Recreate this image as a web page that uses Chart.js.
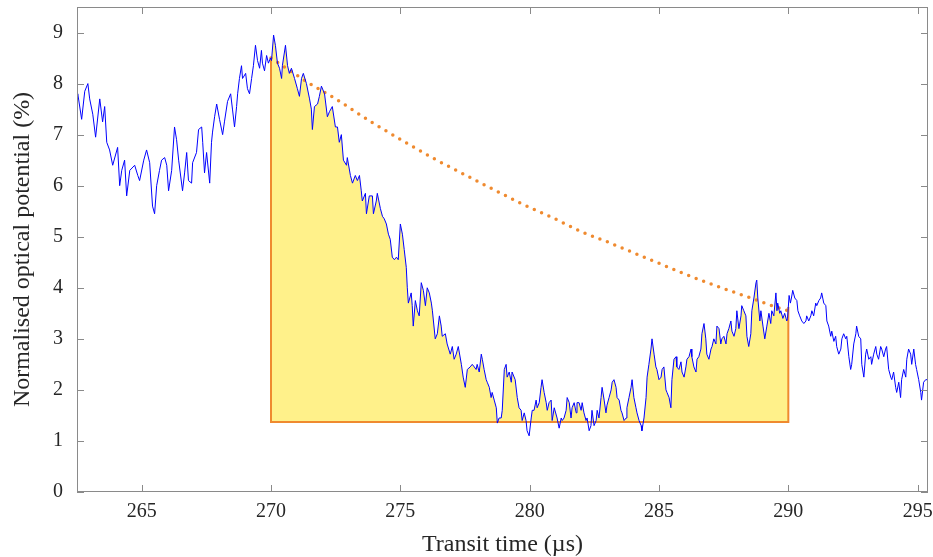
<!DOCTYPE html>
<html>
<head>
<meta charset="utf-8">
<script src="https://cdn.jsdelivr.net/npm/chart.js"></script>
<style>
  html, body { margin: 0; padding: 0; background: #fff; }
  canvas { display: block; }
</style>
</head>
<body>
<canvas id="chart" width="933" height="557"></canvas>
<script>
// Transit time (µs) and normalised optical potential (%)
const time = [
  262.49,262.53,262.68,262.80,262.92,262.99,263.11,263.22,263.38,263.49,263.57,263.65,263.76,263.88,264.07,264.15,264.23,264.34,264.42,264.54,264.73,264.85,264.92,265.08,265.19,265.31,265.42,265.50,265.58,265.69,265.77,265.89,265.97,266.04,266.16,266.27,266.35,266.43,
  266.58,266.66,266.74,266.81,266.93,266.97,267.12,267.20,267.32,267.36,267.43,267.51,267.63,267.70,267.74,267.82,267.90,268.01,268.13,268.20,268.32,268.44,268.51,268.59,268.67,268.71,268.78,268.86,268.90,269.02,269.09,269.17,269.25,269.32,269.40,269.48,269.56,269.63,269.67,269.75,269.83,269.90,269.98,
  270.02,270.10,270.17,270.25,270.33,270.41,270.44,270.56,270.64,270.71,270.79,270.91,271.02,271.10,271.18,271.25,271.37,271.49,271.56,271.60,271.68,271.80,271.87,271.95,272.07,272.18,272.26,272.37,272.49,272.57,272.64,272.72,272.80,272.92,272.95,273.07,273.15,273.26,273.34,
  273.42,273.49,273.53,273.65,273.69,273.80,273.92,273.96,274.07,274.11,274.23,274.31,274.38,274.46,274.54,274.61,274.69,274.77,274.85,274.92,275.00,275.08,275.15,275.23,275.27,275.31,275.42,275.46,275.50,275.58,275.66,275.73,275.81,275.89,275.97,276.04,276.12,276.20,276.24,276.35,276.43,276.51,276.58,276.62,276.74,276.81,276.93,277.01,277.08,277.16,277.24,277.36,277.43,277.51,277.59,
  277.70,277.78,277.86,277.93,277.97,278.05,278.13,278.17,278.24,278.32,278.36,278.44,278.51,278.55,278.63,278.71,278.75,278.82,278.90,278.94,279.02,279.09,279.13,279.21,279.29,279.32,279.44,279.52,279.59,279.67,279.71,279.79,279.86,279.90,279.98,280.06,280.10,280.17,280.25,280.29,280.37,280.44,280.48,280.56,280.64,280.68,280.75,280.83,280.87,280.95,281.06,281.14,281.22,281.26,
  281.33,281.41,281.45,281.53,281.60,281.64,281.72,281.80,281.83,281.91,281.99,282.03,282.10,282.18,282.22,282.30,282.37,282.41,282.49,282.57,282.61,282.68,282.76,282.80,282.88,282.95,282.99,283.07,283.15,283.19,283.26,283.34,283.38,283.46,283.53,283.57,283.65,283.73,283.76,283.84,283.92,283.96,284.03,284.11,284.15,284.23,284.31,284.34,284.42,284.50,284.54,284.61,284.69,284.73,284.81,284.88,
  284.92,285.00,285.08,285.12,285.19,285.27,285.31,285.39,285.46,285.50,285.58,285.66,285.69,285.77,285.85,285.89,285.97,286.04,286.08,286.16,286.24,286.27,286.35,286.43,286.47,286.54,286.62,286.66,286.74,286.81,286.85,286.93,287.01,287.05,287.12,287.20,287.24,287.32,287.39,287.43,287.51,287.59,287.63,287.70,287.78,287.82,287.90,287.97,288.01,288.09,288.17,288.20,288.28,288.36,
  288.40,288.47,288.55,288.59,288.67,288.75,288.78,288.82,288.90,288.94,289.02,289.09,289.17,289.25,289.32,289.36,289.44,289.52,289.56,289.59,289.67,289.71,289.79,289.86,289.94,289.97,290.03,290.08,290.12,290.17,290.25,290.33,290.37,290.44,290.52,290.60,290.68,290.71,290.79,290.87,290.91,290.98,291.06,291.10,291.18,291.25,291.29,291.37,291.45,291.49,291.56,
  291.64,291.68,291.76,291.83,291.87,291.95,292.03,292.07,292.14,292.22,292.26,292.34,292.41,292.45,292.53,292.61,292.64,292.72,292.80,292.84,292.92,292.99,293.03,293.11,293.19,293.22,293.30,293.38,293.42,293.49,293.57,293.61,293.69,293.76,293.80,293.88,293.96,294.00,294.07,294.15,294.19,294.27,294.34,294.38,294.46,294.54,294.58,294.65,294.73,294.77,294.85,294.92,294.96,295.04,295.12,295.15,295.23,295.31,295.38
];
const potential = [
  7.6,7.8,7.3,7.85,8.0,7.7,7.4,6.95,7.7,7.25,7.55,6.85,6.7,6.4,6.75,6.0,6.3,6.5,5.8,6.3,6.4,6.2,6.1,6.5,6.7,6.45,5.6,5.45,6.0,6.3,6.5,6.55,6.4,5.9,6.3,7.15,6.9,6.5,
  5.9,6.25,6.65,6.1,6.05,6.45,6.65,7.1,7.15,6.85,6.25,6.65,6.05,6.85,7.05,7.35,7.6,7.3,7.0,7.25,7.65,7.8,7.5,7.15,7.55,7.8,8.1,8.35,8.1,8.2,7.9,7.8,8.1,8.35,8.75,8.45,8.3,8.65,8.4,8.25,8.55,8.4,8.5,
  8.45,8.95,8.75,8.4,8.3,8.1,8.35,8.75,8.35,8.2,8.3,8.1,7.9,7.75,8.1,8.2,8.0,7.7,7.5,7.1,7.55,7.6,7.75,7.95,7.8,7.35,7.45,7.55,7.15,7.15,6.85,7.0,6.5,6.4,6.55,6.2,6.05,6.2,6.1,
  6.2,5.9,5.7,5.85,5.45,5.8,5.8,5.45,5.7,5.85,5.55,5.4,5.35,5.25,5.05,4.95,4.6,4.55,4.6,4.55,5.25,5.05,4.75,4.4,4.0,3.7,3.9,3.65,3.25,3.75,3.55,3.45,4.1,3.95,3.65,4.0,3.9,3.7,3.55,3.0,3.1,3.45,3.25,3.05,3.1,2.9,2.7,2.85,2.6,2.7,2.85,2.5,2.25,2.05,2.4,
  2.45,2.5,2.45,2.4,2.5,2.35,2.7,2.6,2.4,2.2,2.15,2.05,1.85,1.95,1.8,1.65,1.35,1.45,1.45,1.6,2.4,2.5,2.25,2.35,2.15,2.35,2.2,1.85,1.65,1.6,1.4,1.55,1.4,1.2,1.1,1.45,1.6,1.6,1.8,1.65,1.75,2.05,2.2,1.95,1.75,1.6,1.75,1.8,1.4,1.65,1.45,1.25,1.45,1.4,
  1.45,1.6,1.85,1.75,1.45,1.65,1.75,1.55,1.75,1.75,1.6,1.75,1.55,1.4,1.45,1.2,1.3,1.6,1.3,1.4,1.6,1.45,1.85,2.05,1.8,1.55,1.7,1.85,2.0,2.15,2.2,2.05,1.85,1.8,1.6,1.55,1.4,1.45,1.65,1.85,2.05,2.2,1.85,1.65,1.55,1.4,1.3,1.2,1.45,1.85,2.25,2.5,2.8,3.0,2.7,2.45,
  2.4,2.2,2.25,2.4,2.45,2.0,1.95,1.85,1.65,2.2,2.6,2.65,2.45,2.4,2.55,2.35,2.25,2.45,2.6,2.65,2.8,2.65,2.45,2.35,2.6,2.65,2.8,3.1,3.3,3.0,2.7,2.6,2.8,2.85,3.0,2.9,3.25,3.2,2.9,3.0,3.05,2.9,3.1,3.2,3.35,3.15,3.05,3.2,3.55,3.2,3.45,3.65,3.55,3.45,
  3.05,2.85,3.1,3.55,3.8,4.1,4.15,3.8,3.35,3.55,3.25,3.0,3.25,3.5,3.3,3.55,3.45,3.9,3.55,3.7,3.5,3.55,3.4,3.5,3.35,3.4,3.85,3.7,3.8,3.95,3.8,3.75,3.55,3.45,3.35,3.3,3.35,3.45,3.35,3.45,3.55,3.45,3.7,3.65,3.75,3.8,3.9,3.7,3.65,3.35,3.25,
  3.05,3.15,2.95,3.05,2.85,2.7,2.8,3.0,3.1,3.0,3.05,2.65,2.4,2.5,2.9,3.1,3.25,3.05,3.0,2.5,2.25,2.7,2.8,2.6,2.65,2.5,2.7,2.85,2.7,2.6,2.85,2.8,2.65,2.8,2.85,2.4,2.25,2.2,2.35,2.05,1.95,2.15,1.85,2.2,2.4,2.25,2.6,2.8,2.7,2.5,2.8,2.5,2.4,2.2,1.95,1.8,2.15,2.2,2.2
];

// Dotted decay curve
const fitTime  = [270, 271.5, 272.5, 273.9, 275.1, 276.3, 277.55, 278.7, 279.6, 280.9, 282.0, 283.0, 284.0, 284.9, 286.0, 287.3, 288.6, 289.3, 290.0];
const fitValue = [8.5, 8.0, 7.7, 7.24, 6.88, 6.53, 6.2, 5.9, 5.67, 5.37, 5.1, 4.9, 4.69, 4.5, 4.27, 4.02, 3.79, 3.66, 3.55];

// Integration window and baseline of the shaded area
const areaStart = 270;
const areaEnd = 290;
const baseline = 1.37;

const xTicks = [265, 270, 275, 280, 285, 290, 295];
const yTicks = [0, 1, 2, 3, 4, 5, 6, 7, 8, 9];

const BLUE = '#0000ff';
const ORANGE = '#ef8a2f';
const YELLOW = '#fff18a';
const FRAME = '#8a8a8a';
const TEXT = '#262626';
const FONT = "'Liberation Serif', 'Times New Roman', serif";

// linear interpolation on the trace
function valueAt(t) {
  for (let i = 1; i < time.length; i++) {
    if (time[i] >= t) {
      const f = (t - time[i - 1]) / (time[i] - time[i - 1]);
      return potential[i - 1] + f * (potential[i] - potential[i - 1]);
    }
  }
  return potential[potential.length - 1];
}

const trace = time.map((t, i) => ({ x: t, y: potential[i] }));

const areaPts = [{ x: areaStart, y: valueAt(areaStart) }];
time.forEach((t, i) => {
  if (t > areaStart && t < areaEnd) areaPts.push({ x: t, y: potential[i] });
});
areaPts.push({ x: areaEnd, y: valueAt(areaEnd) });

const boxPts = [
  { x: areaStart, y: valueAt(areaStart) },
  { x: areaStart, y: baseline },
  { x: areaEnd, y: baseline },
  { x: areaEnd, y: valueAt(areaEnd) }
];

const fitPts = fitTime.map((t, i) => ({ x: t, y: fitValue[i] }));

// box around the plot with inward ticks on all four sides
const framePlugin = {
  id: 'frame',
  afterDatasetsDraw(chart) {
    const { ctx, chartArea: a, scales: { x, y } } = chart;
    const len = 7;
    ctx.save();
    ctx.strokeStyle = FRAME;
    ctx.lineWidth = 1;
    ctx.beginPath();
    xTicks.forEach(v => {
      const px = Math.round(x.getPixelForValue(v)) + 0.5;
      ctx.moveTo(px, a.bottom); ctx.lineTo(px, a.bottom - len);
      ctx.moveTo(px, a.top); ctx.lineTo(px, a.top + len);
    });
    yTicks.forEach(v => {
      const py = Math.round(y.getPixelForValue(v)) + 0.5;
      ctx.moveTo(a.left, py); ctx.lineTo(a.left + len, py);
      ctx.moveTo(a.right, py); ctx.lineTo(a.right - len, py);
    });
    ctx.stroke();
    ctx.strokeRect(Math.round(a.left) + 0.5, Math.round(a.top) + 0.5,
                   Math.round(a.width) - 1, Math.round(a.height) - 1);
    ctx.restore();
  }
};

new Chart(document.getElementById('chart'), {
  type: 'line',
  data: {
    datasets: [
      {
        label: 'trace',
        data: trace,
        borderColor: BLUE,
        borderWidth: 1,
        pointRadius: 0,
        tension: 0,
        fill: false,
        order: 1
      },
      {
        label: 'fit',
        data: fitPts,
        borderColor: ORANGE,
        borderWidth: 3.5,
        borderDash: [0, 8],
        borderCapStyle: 'round',
        pointRadius: 0,
        cubicInterpolationMode: 'monotone',
        fill: false,
        order: 2
      },
      {
        label: 'window',
        data: boxPts,
        borderColor: ORANGE,
        borderWidth: 2,
        pointRadius: 0,
        tension: 0,
        fill: false,
        order: 3
      },
      {
        label: 'area',
        data: areaPts,
        borderWidth: 0,
        borderColor: 'rgba(0,0,0,0)',
        pointRadius: 0,
        tension: 0,
        fill: { target: { value: baseline }, above: YELLOW, below: 'rgba(0,0,0,0)' },
        order: 4
      }
    ]
  },
  options: {
    responsive: false,
    animation: false,
    devicePixelRatio: 1,
    layout: { padding: { top: 7, right: 5, left: 0, bottom: 0 } },
    plugins: {
      legend: { display: false },
      tooltip: { enabled: false }
    },
    scales: {
      x: {
        type: 'linear',
        min: 262.5,
        max: 295.4,
        grid: { display: false, drawTicks: false },
        border: { display: false },
        afterBuildTicks: s => { s.ticks = xTicks.map(v => ({ value: v })); },
        afterFit: s => { s.height = 65; s.paddingLeft = 0; s.paddingRight = 0; },
        ticks: {
          color: TEXT,
          padding: 8,
          maxRotation: 0,
          font: { family: FONT, size: 20 },
          callback: v => String(v)
        },
        title: {
          display: true,
          text: 'Transit time (\u00b5s)',
          color: TEXT,
          padding: { top: 0, bottom: -2 },
          font: { family: FONT, size: 24 }
        }
      },
      y: {
        min: 0,
        max: 9.5,
        grid: { display: false, drawTicks: false },
        border: { display: false },
        afterBuildTicks: s => { s.ticks = yTicks.map(v => ({ value: v })); },
        afterFit: s => { s.width = 77; s.paddingTop = 0; s.paddingBottom = 0; },
        ticks: {
          color: TEXT,
          padding: 14,
          font: { family: FONT, size: 20 },
          callback: v => String(v)
        },
        title: {
          display: true,
          text: 'Normalised optical potential (%)',
          color: TEXT,
          padding: { top: 8, bottom: 0 },
          font: { family: FONT, size: 24 }
        }
      }
    }
  },
  plugins: [framePlugin]
});
</script>
</body>
</html>
